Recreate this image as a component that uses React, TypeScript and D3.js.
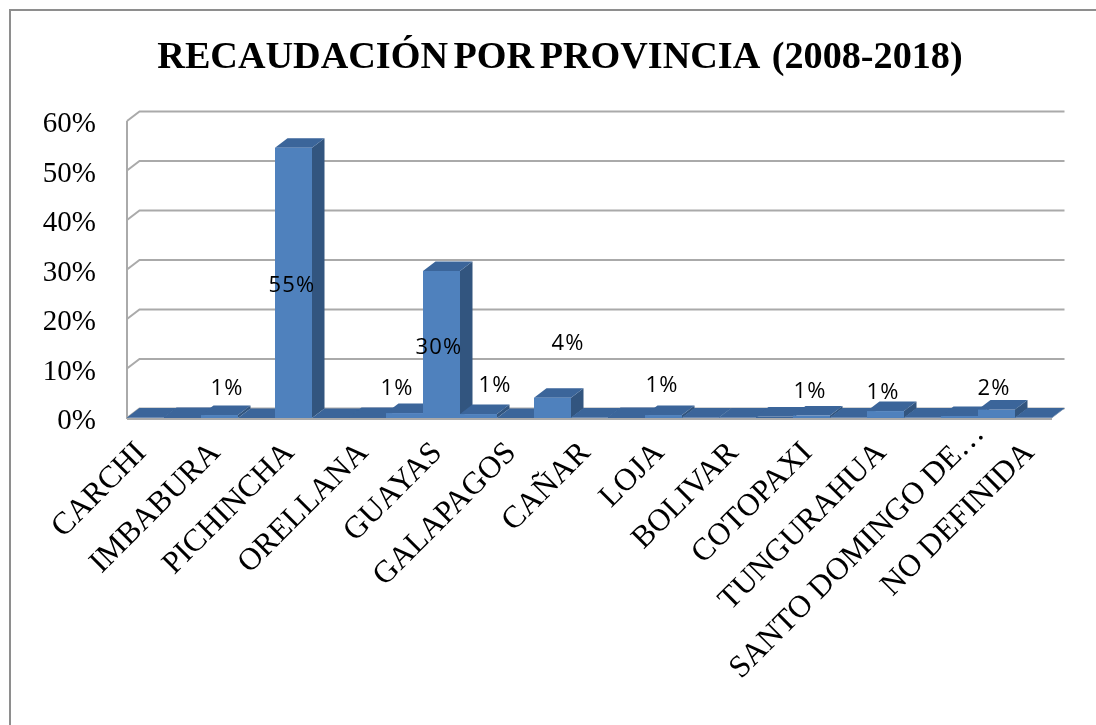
import React from "react";
import * as d3 from "d3";

const titleHead = "RECAUDACIÓN POR PROVINCIA";
const titleTail = "(2008-2018)";
const yTicks = [0, 10, 20, 30, 40, 50, 60];
// 25 categories; the chart prints only every second name
const categories = ["CARCHI", "", "IMBABURA", "", "PICHINCHA", "", "ORELLANA", "", "GUAYAS", "", "GALAPAGOS", "", "CAÑAR", "", "LOJA", "", "BOLIVAR", "", "COTOPAXI", "", "TUNGURAHUA", "", "SANTO DOMINGO DE…", "", "NO DEFINIDA"];
const values = [0.1, 0.2, 0.6, 0, 54.6, 0, 0.2, 1, 29.7, 0.8, 0, 4.1, 0.1, 0.2, 0.6, 0.1, 0.1, 0.3, 0.5, 0.1, 1.4, 0.1, 0.4, 1.7, 0.1];
const dataLabels = ["", "", "1%", "", "55%", "", "", "1%", "30%", "1%", "", "4%", "", "", "1%", "", "", "", "1%", "", "1%", "", "", "2%", ""];

const W = 1096, H = 725;
const DX = 12.5, DY = 9.5;
const x = d3.scaleBand<number>().domain(d3.range(categories.length)).range([127, 1052]).padding(0);
const y = d3.scaleLinear().domain([0, 60]).range([418, 121]);
const labelOffset: Record<number, [number, number]> = {
  2: [7.5, 23], 4: [-1.5, 126], 7: [-7.5, 23], 8: [-2.5, 64], 9: [16.5, 26], 11: [15.5, 68], 14: [-1.5, 26], 18: [-1.5, 20], 20: [-2.5, 19], 23: [-2.5, 23],
};
const TICK_DX = 2, TICK_Y = 454;

const FRONT = "#4f81bd", TOP = "#3a659a", SIDE = "#32557f", GRID = "#aaaaaa";
const serif = "'Liberation Serif', serif";
const pts = (p: [number, number][]) => p.map((q) => q.join(",")).join(" ");

export default function App() {
  const y0 = y(0);
  const bw = x.bandwidth();
  return (
    <svg width={W} height={H} viewBox={`0 0 ${W} ${H}`} style={{ position: "fixed", left: 0, top: 0, background: "#fff" }}>
      <defs>
        <filter id="soft" x="-5%" y="-5%" width="110%" height="110%">
          <feGaussianBlur stdDeviation="0.55" />
        </filter>
        <filter id="softText" x="-5%" y="-5%" width="110%" height="110%">
          <feGaussianBlur stdDeviation="0.3" />
        </filter>
      </defs>
      <path d={`M10,725 V10 H1096`} fill="none" stroke="#8e8e8e" strokeWidth={2} />
      <g filter="url(#soft)">
        {yTicks.map((t) => (
          <polyline key={t} points={pts([[127, y(t)], [127 + DX, y(t) - DY], [1052 + DX, y(t) - DY]])} fill="none" stroke={GRID} strokeWidth={2} />
        ))}
        <line x1={127} x2={127} y1={y(60)} y2={y0 + 1} stroke={GRID} strokeWidth={2} />
        <line x1={127} x2={1052} y1={y0 + 1} y2={y0 + 1} stroke={GRID} strokeWidth={2} />
        {values.map((v, i) => {
          const x0 = x(i)!;
          const x1 = x0 + bw;
          const t = y(v);
          return (
            <g key={i}>
              <polygon points={pts([[x1, y0], [x1 + DX, y0 - DY], [x1 + DX, t - DY], [x1, t]])} fill={SIDE} />
              <polygon points={pts([[x0, t], [x0 + DX, t - DY], [x1 + DX, t - DY], [x1, t]])} fill={TOP} />
              <rect x={x0} y={t} width={bw} height={y0 - t} fill={v > 0.3 ? FRONT : TOP} />
            </g>
          );
        })}
      </g>
      <g filter="url(#softText)">
        <text x={560} y={68} textAnchor="middle" fontFamily={serif} fontWeight="bold" fontSize={38.2} fill="#000" wordSpacing={-4}>
          {titleHead}<tspan dx={8}> {titleTail}</tspan>
        </text>
        {yTicks.map((t) => (
          <text key={t} x={96} y={y(t) + 11} textAnchor="end" fontFamily={serif} fontSize={29} fill="#000">{t}%</text>
        ))}
        {categories.map((c, i) => {
          if (!c) return null;
          const isLong = c.endsWith("…");
          const px = x(i)! + bw / 2 + (isLong ? 26 : TICK_DX);
          const py = isLong ? 435 : TICK_Y;
          return (
            <text key={i} transform={`translate(${px},${py}) rotate(-45)`} textAnchor="end" fontFamily={serif} fontSize={31.5} fill="#000">{c}</text>
          );
        })}
        {dataLabels.map((l, i) => {
          if (!l) return null;
          const o = labelOffset[i] ?? [0, 20];
          return (
            <text key={i} x={x(i)! + bw / 2 + o[0]} y={y0 - o[1]} textAnchor="middle" fontFamily="'Open Sans', sans-serif" fontSize={22} letterSpacing={1.2} fill="#000">{l}</text>
          );
        })}
      </g>
    </svg>
  );
}
